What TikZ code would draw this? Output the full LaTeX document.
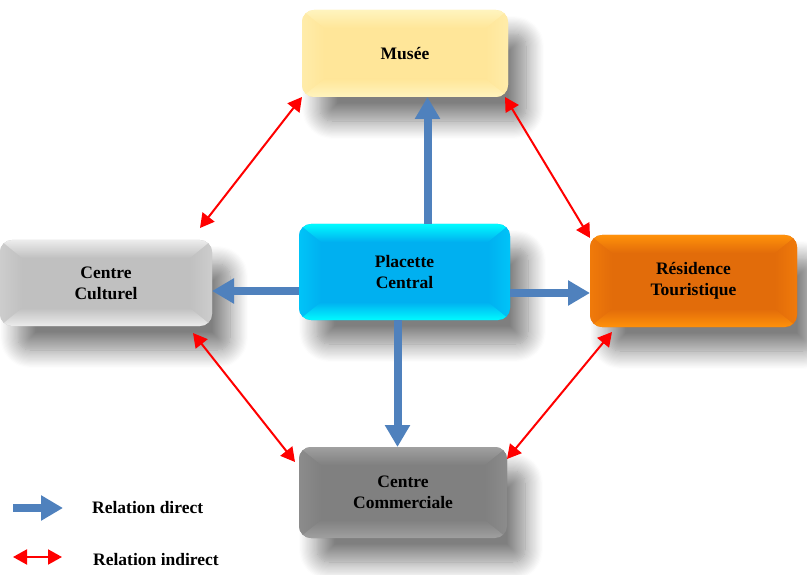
\documentclass[tikz,border=0pt]{standalone}
\usepackage{fontspec}
\setmainfont{Liberation Serif}
\usetikzlibrary{arrows.meta,calc,shadows.blur}

% box palettes: main face, light top/bottom bevel, side bevel
\definecolor{musMain}{RGB}{255,230,153}
\definecolor{musLight}{RGB}{255,244,190}
\definecolor{musSide}{RGB}{255,236,170}
\definecolor{culMain}{RGB}{192,192,192}
\definecolor{culLight}{RGB}{236,236,236}
\definecolor{culSide}{RGB}{205,205,205}
\definecolor{plaMain}{RGB}{0,176,240}
\definecolor{plaLight}{RGB}{0,250,255}
\definecolor{plaSide}{RGB}{0,196,248}
\definecolor{resMain}{RGB}{226,108,10}
\definecolor{resLight}{RGB}{255,145,10}
\definecolor{resSide}{RGB}{240,122,10}
\definecolor{comMain}{RGB}{128,128,128}
\definecolor{comLight}{RGB}{160,160,160}
\definecolor{comSide}{RGB}{140,140,140}
\definecolor{directBlue}{RGB}{79,129,189}
\definecolor{indirectRed}{RGB}{255,0,0}

\tikzset{
  box/.style={rounded corners=12pt, inner sep=0pt, outer sep=0pt,
    align=center, font=\bfseries\fontsize{17.5}{21}\selectfont,
    blur shadow={shadow xshift=18pt, shadow yshift=-24pt,
      shadow blur radius=18pt, shadow blur steps=16, shadow opacity=50}},
  bevel/.style n args={3}{
    fill=#1,
    path picture={
      \coordinate (bl) at (path picture bounding box.south west);
      \coordinate (tr) at (path picture bounding box.north east);
      \coordinate (tl) at (bl|-tr);
      \coordinate (br) at (tr|-bl);
      \coordinate (itl) at ($(tl)+(22pt,-18pt)$);
      \coordinate (itr) at ($(tr)+(-22pt,-18pt)$);
      \coordinate (ibl) at ($(bl)+(22pt,18pt)$);
      \coordinate (ibr) at ($(br)+(-22pt,18pt)$);
      \shade[sharp corners, left color=#3, right color=#1]
        (tl) -- (itl) -- (ibl) -- (bl) -- cycle;
      \shade[sharp corners, right color=#3, left color=#1]
        (tr) -- (itr) -- (ibr) -- (br) -- cycle;
      \shade[sharp corners, top color=#2, bottom color=#1]
        (tl) -- (tr) -- (itr) -- (itl) -- cycle;
      \shade[sharp corners, bottom color=#2, top color=#1]
        (bl) -- (br) -- (ibr) -- (ibl) -- cycle;
    }},
  direct/.style={draw=directBlue, line width=8pt,
    -{Triangle[width=24pt,length=22pt]}},
  indirect/.style={draw=indirectRed, line width=2pt,
    {Triangle[width=15pt,length=14pt]}-{Triangle[width=15pt,length=14pt]}},
  legendtext/.style={anchor=west, inner sep=0pt,
    font=\bfseries\fontsize{17.5}{21}\selectfont}
}

\begin{document}
\begin{tikzpicture}[x=1pt,y=-1pt]
\useasboundingbox (0,0) rectangle (807,575);

% boxes
\node[box, bevel={musMain}{musLight}{musSide},
  minimum width=206pt, minimum height=87pt] (mu) at (405,53.5) {Musée};
\node[box, bevel={culMain}{culLight}{culSide},
  minimum width=212pt, minimum height=86pt] (cc) at (106,283) {Centre\\Culturel};
\node[box, bevel={plaMain}{plaLight}{plaSide},
  minimum width=211pt, minimum height=96pt] (pc) at (404.5,272) {Placette\\Central};
\node[box, bevel={resMain}{resLight}{resSide},
  minimum width=207pt, minimum height=92pt] (rt) at (693.5,281) {Résidence\\Touristique};
\node[box, bevel={comMain}{comLight}{comSide},
  minimum width=208pt, minimum height=91pt] (cm) at (403,492.5) {Centre\\Commerciale};

% direct relations from the central square
\draw[direct] ([xshift=23pt]pc.north) -- ([xshift=23pt]pc.north |- mu.south);
\draw[direct] ([yshift=-19pt]pc.west) -- ([yshift=-19pt]pc.west -| cc.east);
\draw[direct] ([yshift=-21pt]pc.east) -- ([yshift=-21pt]pc.east -| rt.west);
\draw[direct] ([xshift=-7pt]pc.south) -- ([xshift=-7pt]pc.south |- cm.north);

% indirect relations around the ring
\draw[indirect] (mu.south west) -- ([shift={(-12,-12)}]cc.north east);
\draw[indirect] ([shift={(-3,0)}]mu.south east) -- ([shift={(0,3)}]rt.north west);
\draw[indirect] ([shift={(-19,7)}]cc.south east) -- ([shift={(-4,15)}]cm.north west);
\draw[indirect] ([shift={(22,5)}]rt.south west) -- ([shift={(0,12)}]cm.north east);

% legend
\coordinate (ld1) at (13,508);
\coordinate (ld2) at (63,508);
\coordinate (li1) at (13,557);
\coordinate (li2) at (62,557);
\draw[direct] (ld1) -- (ld2);
\draw[indirect] (li1) -- (li2);
\node[legendtext] (ldt) at (92,508) {Relation direct};
\node[legendtext] (lit) at (93,560) {Relation indirect};
\end{tikzpicture}
\end{document}
